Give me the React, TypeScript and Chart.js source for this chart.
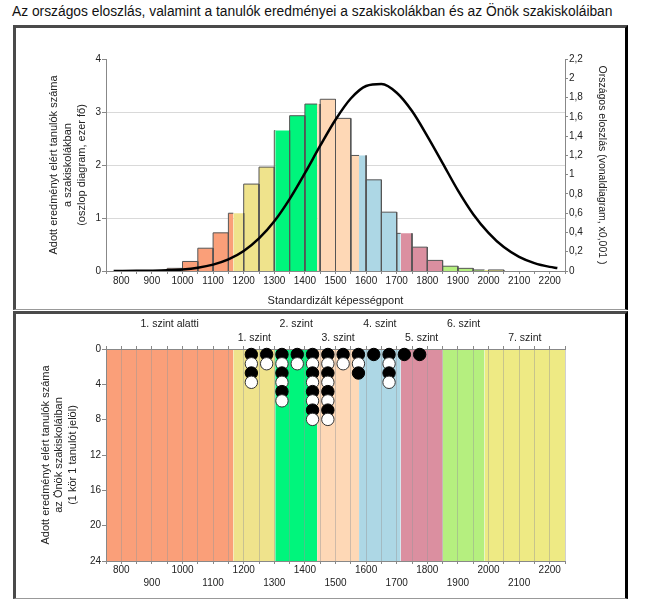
import React, { useEffect, useRef } from 'react';
import { Chart, registerables } from 'chart.js';

Chart.register(...registerables);

const FONT = "'Liberation Sans', Arial, sans-serif";
Chart.defaults.font.family = FONT;
Chart.defaults.color = '#222';

const TITLE = 'Az országos eloszlás, valamint a tanulók eredményei a szakiskolákban és az Önök szakiskoláiban';

const X_MIN = 750;
const X_MAX = 2250;

const LEVEL_NAMES = ['1. szint alatti', '1. szint', '2. szint', '3. szint', '4. szint', '5. szint', '6. szint', '7. szint'];
const LEVEL_EDGES = [750, 1166, 1303, 1440, 1577, 1713, 1850, 1987, 2250];
const LEVEL_COLORS = ['#FA9F79', '#EFE38C', '#00F57C', '#FED8B6', '#ADD7E5', '#DB8FA0', '#B5EF7F', '#EEEA84'];

const BIN_WIDTH = 50;
const BIN_STARTS = [950, 1000, 1050, 1100, 1150, 1200, 1250, 1300, 1350, 1400, 1450, 1500, 1550, 1600, 1650, 1700, 1750, 1800, 1850, 1900, 1950, 2000];
const BAR_VALUES = [0.05, 0.18, 0.43, 0.72, 1.09, 1.64, 1.96, 2.65, 2.93, 3.15, 3.24, 2.88, 2.18, 1.72, 1.11, 0.71, 0.45, 0.2, 0.09, 0.05, 0.02, 0.02];

const CURVE_X = [775, 800, 850, 900, 950, 1000, 1050, 1100, 1150, 1200, 1250, 1300, 1350, 1400, 1450, 1500, 1550, 1600, 1650, 1700, 1750, 1800, 1850, 1900, 1950, 2000, 2050, 2100, 2150, 2200, 2225];
const CURVE_Y = [0.0003, 0.0005, 0.0013, 0.003, 0.007, 0.016, 0.034, 0.066, 0.12, 0.207, 0.338, 0.516, 0.746, 1.015, 1.3, 1.57, 1.79, 1.92, 1.94, 1.85, 1.66, 1.4, 1.12, 0.837, 0.59, 0.396, 0.248, 0.147, 0.082, 0.043, 0.031];

const CIRCLE_BINS = [1225, 1275, 1325, 1375, 1425, 1475, 1525, 1575, 1625, 1675, 1725, 1775];
const CIRCLE_COUNTS = [4, 2, 6, 2, 8, 8, 2, 3, 1, 4, 1, 1];

const LEFT_TITLE_TOP = ['Adott eredményt elért tanulók száma', 'a szakiskolákban', '(oszlop diagram, ezer fő)'];
const RIGHT_TITLE_TOP = 'Országos eloszlás (vonaldiagram, x0,001 )';
const X_TITLE_TOP = 'Standardizált képességpont';
const LEFT_TITLE_BOTTOM = ['Adott eredményt elért tanulók száma', 'az Önök szakiskoláiban', '(1 kör 1 tanulót jelöl)'];

const CLEAR = 'rgba(0,0,0,0)';
const BAR_BORDER = '#555';

function topConfig(): any {
  const barDatasets = LEVEL_NAMES.map((name, i) => {
    const lo = LEVEL_EDGES[i];
    const hi = LEVEL_EDGES[i + 1];
    const pts: any[] = [];
    BIN_STARTS.forEach((s, j) => {
      const e = s + BIN_WIDTH;
      const a = Math.max(s, lo);
      const b = Math.min(e, hi);
      if (b <= a) return;
      const h = BAR_VALUES[j];
      const aEdge = a === s;
      const bEdge = b === e;
      pts.push({ x: a, y: 0, e: aEdge }, { x: a, y: h, e: aEdge }, { x: b, y: h, e: bEdge }, { x: b, y: 0, e: bEdge });
    });
    return {
      type: 'line',
      label: name,
      data: pts,
      xAxisID: 'x',
      yAxisID: 'y',
      backgroundColor: LEVEL_COLORS[i],
      borderColor: BAR_BORDER,
      borderWidth: 1,
      fill: 'origin',
      pointRadius: 0,
      tension: 0,
      order: 2,
      segment: {
        borderColor: (ctx: any) => {
          const p0 = pts[ctx.p0DataIndex];
          const p1 = pts[ctx.p1DataIndex];
          if (!p0 || !p1) return BAR_BORDER;
          if (p0.y === 0 && p1.y === 0) return CLEAR;
          if (p0.x === p1.x) return p0.e ? BAR_BORDER : CLEAR;
          return p0.e ? BAR_BORDER : CLEAR;
        },
      },
    };
  });

  const curve = {
    type: 'line',
    label: 'Országos eloszlás',
    data: CURVE_X.map((x, i) => ({ x, y: CURVE_Y[i] })),
    xAxisID: 'x',
    yAxisID: 'y1',
    borderColor: '#000',
    borderWidth: 2.5,
    pointRadius: 0,
    fill: false,
    cubicInterpolationMode: 'monotone',
    order: 0,
  };

  return {
    type: 'line',
    data: { datasets: [curve, ...barDatasets] },
    options: {
      animation: false,
      responsive: false,
      events: [],
      layout: { padding: { top: 31, left: 0, right: 0, bottom: 0 } },
      plugins: { legend: { display: false }, tooltip: { enabled: false } },
      scales: {
        x: {
          type: 'linear',
          position: 'bottom',
          min: X_MIN,
          max: X_MAX,
          ticks: {
            stepSize: 50,
            autoSkip: false,
            maxRotation: 0,
            padding: 0,
            color: '#222',
            font: { size: 10, lineHeight: 1.4 },
            callback: (v: number) => (v % 100 === 0 ? String(v) : ''),
          },
          grid: { drawOnChartArea: false, tickLength: 3, color: '#888' },
          border: { color: '#888' },
          title: {
            display: true,
            text: X_TITLE_TOP,
            color: '#222',
            font: { size: 11 },
            padding: { top: 0, bottom: 2 },
          },
          afterFit: (s: any) => {
            s.height = 39;
          },
        },
        y: {
          type: 'linear',
          position: 'left',
          min: 0,
          max: 4,
          ticks: { stepSize: 1, padding: 1, color: '#222', font: { size: 10 } },
          grid: {
            color: (ctx: any) => (ctx.tick && ctx.tick.value > 0 && ctx.tick.value < 4 ? '#d9d9d9' : CLEAR),
            tickColor: '#888',
            tickLength: 4,
          },
          border: { color: '#888' },
          title: {
            display: true,
            text: LEFT_TITLE_TOP,
            color: '#222',
            font: { size: 11, lineHeight: 14 / 11 },
            padding: { top: 31, bottom: 0 },
          },
          afterFit: (s: any) => {
            s.width = 90;
          },
        },
        y1: {
          type: 'linear',
          position: 'right',
          min: 0,
          max: 2.2,
          ticks: {
            stepSize: 0.2,
            padding: 1,
            color: '#222',
            font: { size: 10 },
            callback: (v: number) => String(Number(v.toFixed(1))).replace('.', ','),
          },
          grid: { drawOnChartArea: false, tickLength: 3, tickColor: '#888' },
          border: { color: '#888' },
          title: {
            display: true,
            text: RIGHT_TITLE_TOP,
            color: '#222',
            font: { size: 10.5 },
            padding: { top: 16, bottom: 0 },
          },
          afterFit: (s: any) => {
            s.width = 59;
          },
        },
      },
    },
  };
}

function bottomConfig(): any {
  const bands = LEVEL_NAMES.map((name, i) => ({
    type: 'line',
    label: name,
    data: [
      { x: LEVEL_EDGES[i], y: 24 },
      { x: LEVEL_EDGES[i + 1], y: 24 },
    ],
    xAxisID: 'x',
    yAxisID: 'y',
    backgroundColor: LEVEL_COLORS[i],
    borderColor: CLEAR,
    borderWidth: 1,
    pointRadius: 0,
    fill: 'origin',
    order: 2,
  }));

  const pts: any[] = [];
  const bg: string[] = [];
  const bc: string[] = [];
  CIRCLE_BINS.forEach((x, i) => {
    for (let k = 1; k <= CIRCLE_COUNTS[i]; k++) {
      pts.push({ x, y: 0.62 + 1.05 * (k - 1) });
      const black = k % 2 === 1;
      bg.push(black ? '#000' : '#fff');
      bc.push(black ? '#000' : '#333');
    }
  });

  const circles = {
    type: 'line',
    label: 'tanulók',
    data: pts,
    xAxisID: 'x',
    yAxisID: 'y',
    showLine: false,
    pointRadius: 6.2,
    pointBackgroundColor: bg,
    pointBorderColor: bc,
    pointBorderWidth: 1,
    clip: false,
    order: 0,
  };

  const centers = LEVEL_NAMES.map((_, i) => (LEVEL_EDGES[i] + LEVEL_EDGES[i + 1]) / 2);

  return {
    type: 'line',
    data: { datasets: [circles, ...bands] },
    options: {
      animation: false,
      responsive: false,
      events: [],
      layout: { padding: { top: 0, left: 0, right: 59, bottom: 0 } },
      plugins: {
        legend: { display: false },
        tooltip: { enabled: false },
        filler: { drawTime: 'beforeDraw' },
      },
      scales: {
        x: {
          type: 'linear',
          position: 'bottom',
          min: X_MIN,
          max: X_MAX,
          ticks: {
            stepSize: 50,
            autoSkip: false,
            maxRotation: 0,
            padding: 0,
            color: '#222',
            font: { size: 10, lineHeight: 1.3 },
            callback: (v: number) => (v % 200 === 0 ? [String(v), ''] : v % 100 === 0 ? ['', String(v)] : ''),
          },
          grid: { color: 'rgba(150,150,150,0.45)', tickColor: '#888', tickLength: 3, drawOnChartArea: true },
          border: { color: '#888' },
          afterFit: (s: any) => {
            s.height = 37;
          },
        },
        x2: {
          type: 'linear',
          position: 'top',
          min: X_MIN,
          max: X_MAX,
          afterBuildTicks: (s: any) => {
            const vals: number[] = [];
            for (let v = X_MIN; v <= X_MAX; v += 50) vals.push(v);
            centers.forEach((c) => vals.push(c));
            vals.sort((a, b) => a - b);
            s.ticks = vals.map((value) => ({ value }));
          },
          ticks: {
            autoSkip: false,
            maxRotation: 0,
            padding: 1,
            color: '#222',
            font: { size: 10.5, lineHeight: 14 / 10.5 },
            callback: (v: number) => {
              const idx = centers.indexOf(v);
              if (idx < 0) return '';
              return idx % 2 === 0 ? [LEVEL_NAMES[idx], ''] : ['', LEVEL_NAMES[idx]];
            },
          },
          grid: {
            drawOnChartArea: false,
            tickLength: 3,
            tickColor: (ctx: any) => (ctx.tick && centers.indexOf(ctx.tick.value) >= 0 ? CLEAR : '#888'),
          },
          border: { color: '#888' },
          afterFit: (s: any) => {
            s.height = 35;
          },
        },
        y: {
          type: 'linear',
          position: 'left',
          reverse: true,
          min: 0,
          max: 24,
          ticks: { stepSize: 4, padding: 1, color: '#222', font: { size: 10 } },
          grid: { drawOnChartArea: false, tickLength: 4, tickColor: '#888' },
          border: { color: '#888' },
          title: {
            display: true,
            text: LEFT_TITLE_BOTTOM,
            color: '#222',
            font: { size: 11, lineHeight: 13.5 / 11 },
            padding: { top: 23, bottom: 0 },
          },
          afterFit: (s: any) => {
            s.width = 90;
          },
        },
      },
    },
  };
}

const frameStyle = (top: number, height: number): React.CSSProperties => ({
  position: 'absolute',
  left: 13,
  top,
  width: 609,
  height,
  borderTop: '3px solid #4a4a4a',
  borderLeft: '3px solid #4a4a4a',
  borderRight: '3px solid #000',
  borderBottom: '1px solid #999',
  boxSizing: 'content-box',
});

export default function App() {
  const topRef = useRef<HTMLCanvasElement>(null);
  const botRef = useRef<HTMLCanvasElement>(null);

  useEffect(() => {
    const c1 = new Chart(topRef.current as HTMLCanvasElement, topConfig());
    const c2 = new Chart(botRef.current as HTMLCanvasElement, bottomConfig());
    return () => {
      c1.destroy();
      c2.destroy();
    };
  }, []);

  return (
    <div style={{ position: 'absolute', left: 0, top: 0, width: 648, height: 605, background: '#fff', fontFamily: FONT, overflow: 'hidden' }}>
      <div style={{ position: 'absolute', left: 12, top: 3, fontSize: 13.8, lineHeight: '17px', color: '#111', whiteSpace: 'nowrap' }}>{TITLE}</div>
      <div style={frameStyle(25, 281)} />
      <div style={frameStyle(311, 284)} />
      <canvas ref={topRef} width={608} height={282} style={{ position: 'absolute', left: 16, top: 28, width: 608, height: 282 }} />
      <canvas ref={botRef} width={608} height={284} style={{ position: 'absolute', left: 16, top: 314, width: 608, height: 284 }} />
    </div>
  );
}
